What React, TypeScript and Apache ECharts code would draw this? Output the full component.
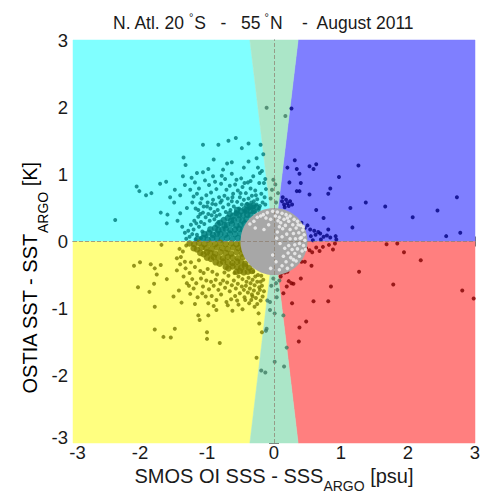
import React, { useEffect, useRef } from "react";
import * as echarts from "echarts";

const tickValues = [-3, -2, -1, 0, 1, 2, 3];
const titleParts = ["N. Atl. 20", "S   -   55", "N    -  August 2011"];
const xNameParts = ["SMOS OI SSS - SSS", "ARGO", " [psu]"];
const yNameParts = ["OSTIA SST - SST", "ARGO", " [K]"];

const cyanRegion = [[-3, 0], [-3, 3], [-0.36, 3], [0, 0]];
const blueRegion = [[0, 0], [0.36, 3], [3, 3], [3, 0]];
const yellowRegion = [[-3, 0], [0, 0], [-0.36, -3], [-3, -3]];
const redRegion = [[0, 0], [3, 0], [3, -3], [0.36, -3]];
const wedgeTop = [[0, 0], [-0.36, 3], [0.36, 3]];
const wedgeBottom = [[0, 0], [-0.36, -3], [0.36, -3]];
const circleCenter = [0, 0];
const circleRadius = 0.5;

const tealPoints = [
  [-0.57, 1.54], [-0.68, 1.5], [-0.83, 1.44], [-1.06, 1.44], [-0.48, 1.39], [-0.38, 1.46], [-0.2, 1.44], [-0.16, 1.3],
  [-0.26, 1.24], [-0.38, 1.19], [-0.63, 1.18], [-0.9, 1.22], [-1.35, 1.25], [-1.32, 1.14], [-2.05, 0.82], [-2.01, 0.75],
  [-1.91, 0.69], [-1.83, 0.72], [-1.7, 0.86], [-1.61, 0.89], [-1.69, 0.43], [-1.59, 0.4], [-1.6, 0.27], [-2.37, 0.32],
  [-1.49, 0.58], [-1.36, 0.97], [-1.15, 1.02], [-1.06, 1.03], [-0.91, 0.97], [-0.76, 1.07], [-0.78, 0.98], [-0.63, 1.01],
  [-0.21, 1.02], [-0.31, 0.97], [-0.22, 0.87], [-0.15, 0.87], [-0.44, 0.87], [-0.56, 0.92], [-1.33, 0.84], [-1.25, 0.77],
  [-1.4, 0.69], [-1.2, 0.67], [-1.1, 0.57], [-1.06, 0.43], [-1.24, 0.25], [-1.33, 0.13], [-1.3, 0.5], [-1.4, 0.42],
  [-1.18, 0.88], [-1.12, 0.79], [-1.03, 0.91], [-0.97, 0.84], [-0.94, 0.73], [-0.88, 0.89], [-0.86, 0.78], [-0.82, 0.66],
  [-0.79, 0.86], [-0.73, 0.93], [-0.71, 0.77], [-0.69, 0.64], [-0.66, 0.83], [-0.61, 0.71], [-0.58, 0.85], [-0.54, 0.76],
  [-0.51, 0.66], [-0.49, 0.94], [-0.47, 0.81], [-0.42, 0.72], [-0.39, 0.88], [-0.35, 0.79], [-0.33, 0.68], [-0.28, 0.76],
  [-0.25, 0.63], [-0.19, 0.71], [-0.17, 0.58], [-1.15, 0.71], [-1.08, 0.64], [-1.01, 0.69], [-0.99, 0.58], [-0.95, 0.49],
  [-0.91, 0.62], [-0.87, 0.55], [-0.84, 0.47], [-0.8, 0.58], [-0.76, 0.51], [-0.74, 0.68], [-0.72, 0.44], [-0.68, 0.55],
  [-0.65, 0.47], [-0.63, 0.6], [-0.6, 0.52], [-0.57, 0.43], [-0.55, 0.59], [-0.52, 0.49], [-0.48, 0.55], [-0.45, 0.62],
  [-0.43, 0.45], [-0.4, 0.56], [-0.37, 0.49], [-0.34, 0.58], [-0.31, 0.52], [-0.29, 0.44], [-0.26, 0.55], [-0.23, 0.47],
  [-0.21, 0.53], [-1.22, 0.58], [-1.17, 0.49], [-1.13, 0.37], [-1.19, 0.31], [-1.09, 0.29], [-1.05, 0.52], [-1.02, 0.36],
  [-0.98, 0.41], [-0.96, 0.31], [-0.93, 0.39], [-0.89, 0.44], [-0.89, 0.33], [-0.86, 0.38], [-0.83, 0.29], [-0.81, 0.4],
  [-1.12, 0.22], [-1.07, 0.15], [-1.04, 0.26], [-1.01, 0.08], [-1.15, 0.1], [-1.2, 0.18], [-1.26, 0.07], [-1.17, 0.03],
  [-1.09, 0.05], [-1.1, 0.41], [-1.28, 0.16], [-1.22, 0.11], [-1.31, 0.04], [-1.16, 0.27], [-1.13, 0.47], [-1.0, 0.52],
  [-0.92, 0.56], [-0.78, 0.61], [-0.62, 0.66], [-0.5, 0.72], [-0.38, 0.64], [-0.3, 0.6], [-0.27, 0.69], [-0.35, 0.9],
  [-0.24, 1.1], [-0.18, 1.05], [-0.13, 0.93], [-0.12, 0.78], [-0.14, 0.66], [-0.13, 0.55], [-0.27, 0.35], [-0.22, 0.5],
  [-0.45, 1.1], [-0.7, 1.16], [-0.98, 1.08], [-1.23, 0.95], [-1.48, 0.77], [-1.55, 0.66], [-1.44, 0.31], [-1.37, 0.22]
];

const tealCore = [
  [-1.14, 0.04], [-1.06, 0.05], [-0.99, 0.03], [-0.92, 0.05], [-0.85, 0.04], [-0.78, 0.03], [-0.7, 0.05], [-0.62, 0.04], [-0.54, 0.05], [-0.47, 0.04],
  [-1.04, 0.11], [-0.97, 0.13], [-0.91, 0.1], [-0.85, 0.12], [-0.8, 0.11], [-0.73, 0.1], [-0.66, 0.12], [-0.58, 0.11], [-0.5, 0.12],
  [-0.95, 0.18], [-0.88, 0.2], [-0.83, 0.17], [-0.77, 0.18], [-0.72, 0.19], [-0.65, 0.17], [-0.58, 0.18], [-0.52, 0.19], [-0.46, 0.18],
  [-0.84, 0.25], [-0.8, 0.28], [-0.74, 0.24], [-0.7, 0.25], [-0.63, 0.26], [-0.56, 0.24], [-0.5, 0.25], [-0.44, 0.27],
  [-0.75, 0.32], [-0.69, 0.35], [-0.64, 0.31], [-0.6, 0.32], [-0.53, 0.33], [-0.47, 0.31], [-0.41, 0.33],
  [-0.66, 0.41], [-0.61, 0.38], [-0.56, 0.42], [-0.52, 0.39], [-0.46, 0.39], [-0.4, 0.4], [-0.35, 0.39],
  [-0.55, 0.47], [-0.49, 0.45], [-0.44, 0.48], [-0.41, 0.46], [-0.35, 0.46], [-0.3, 0.45],
  [-0.4, 0.54], [-0.36, 0.52], [-0.31, 0.53], [-0.26, 0.51]
];

const olivePoints = [
  [-1.68, -0.05], [-2.09, -0.36], [-2.0, -0.31], [-2.03, -0.68], [-1.86, -0.75], [-1.84, -0.34], [-1.78, -0.4], [-1.75, -0.49],
  [-1.79, -0.63], [-1.78, -0.97], [-1.78, -1.31], [-1.65, -1.42], [-1.54, -1.43], [-1.48, -1.3], [-1.69, -0.35], [-1.6, -0.56],
  [-1.5, -0.82], [-1.45, -0.25], [-1.42, -0.73], [-1.38, -0.91], [-1.13, -1.1], [-1.11, -1.17], [-1.0, -1.35], [-1.0, -1.45],
  [-0.81, -1.51], [-0.86, -1.02], [-0.98, -0.92], [-0.71, -0.9], [-0.47, -1.01], [-0.43, -0.87], [-0.32, -0.82], [-0.23, -1.07],
  [-0.26, -1.73], [-0.22, -1.22], [-0.18, -1.35],
  [-1.05, -0.47], [-1.12, -0.28], [-1.24, -0.31], [-1.32, -0.4], [-1.26, -0.47], [-1.18, -0.38], [-1.1, -0.44], [-0.99, -0.41],
  [-0.92, -0.45], [-0.85, -0.49], [-0.74, -0.46], [-0.68, -0.51], [-0.59, -0.47], [-0.53, -0.52], [-0.47, -0.56], [-0.41, -0.6],
  [-0.38, -0.54], [-0.35, -0.62], [-0.32, -0.57], [-0.29, -0.65], [-0.25, -0.6], [-0.22, -0.68], [-0.19, -0.51], [-0.16, -0.57],
  [-1.22, -0.56], [-1.16, -0.62], [-1.09, -0.55], [-1.06, -0.67], [-1.01, -0.58], [-0.97, -0.71], [-0.94, -0.6], [-0.9, -0.66],
  [-0.87, -0.57], [-0.83, -0.72], [-0.8, -0.63], [-0.76, -0.58], [-0.73, -0.69], [-0.7, -0.61], [-0.66, -0.74], [-0.63, -0.65],
  [-0.6, -0.58], [-0.57, -0.7], [-0.54, -0.63], [-0.51, -0.77], [-0.48, -0.67], [-0.45, -0.72], [-0.42, -0.66], [-0.39, -0.76],
  [-0.36, -0.7], [-0.33, -0.79], [-0.3, -0.73], [-0.27, -0.84], [-0.24, -0.77], [-0.2, -0.88],
  [-1.25, -0.78], [-1.14, -0.83], [-1.07, -0.77], [-0.93, -0.81], [-0.86, -0.87], [-0.79, -0.79], [-0.64, -0.86], [-0.58, -0.81],
  [-0.53, -0.94], [-0.44, -0.83], [-0.37, -0.92], [-0.29, -0.97], [-1.3, -0.62], [-1.35, -0.52], [-1.4, -0.34], [-1.36, -0.15],
  [-1.31, -0.06], [-1.41, -0.11], [-1.39, -0.23], [-1.33, -0.3], [-1.45, -0.43], [-1.2, -0.7], [-1.02, -0.82], [-0.69, -0.95],
  [-0.55, -0.88], [-0.34, -0.87], [-0.25, -0.93], [-0.28, -0.52], [-0.2, -0.6], [-0.31, -0.45], [-0.24, -0.5], [-0.18, -0.66],
  [-0.62, -1.03], [-0.9, -0.96], [-1.18, -0.93], [-1.27, -0.66], [-0.15, -0.74], [-0.17, -0.82], [-0.21, -0.72], [-0.98, -1.1]
];

const oliveCore = [
  [-1.26, -0.03], [-1.19, -0.04], [-1.12, -0.02], [-1.04, -0.04], [-0.96, -0.03], [-0.88, -0.04], [-0.8, -0.02], [-0.72, -0.04], [-0.64, -0.03], [-0.56, -0.04], [-0.49, -0.03],
  [-1.2, -0.1], [-1.15, -0.12], [-1.08, -0.09], [-1.01, -0.1], [-0.93, -0.11], [-0.85, -0.09], [-0.77, -0.1], [-0.69, -0.11], [-0.61, -0.09], [-0.53, -0.1], [-0.47, -0.12],
  [-1.1, -0.17], [-1.05, -0.19], [-1.0, -0.16], [-0.95, -0.17], [-0.88, -0.18], [-0.8, -0.16], [-0.72, -0.17], [-0.64, -0.18], [-0.56, -0.16], [-0.48, -0.18],
  [-1.0, -0.24], [-0.94, -0.26], [-0.9, -0.23], [-0.83, -0.24], [-0.76, -0.25], [-0.69, -0.23], [-0.62, -0.24], [-0.54, -0.25], [-0.46, -0.23],
  [-0.87, -0.31], [-0.81, -0.33], [-0.76, -0.3], [-0.69, -0.31], [-0.62, -0.32], [-0.55, -0.3], [-0.49, -0.31], [-0.43, -0.33],
  [-0.72, -0.38], [-0.68, -0.4], [-0.62, -0.37], [-0.55, -0.38], [-0.49, -0.39], [-0.43, -0.37], [-0.37, -0.39],
  [-0.56, -0.45], [-0.51, -0.44], [-0.45, -0.46], [-0.39, -0.45], [-0.33, -0.44]
];

const navyPoints = [
  [0.26, 1.98], [0.31, 1.21], [0.2, 1.1], [0.34, 1.08], [0.38, 1.01], [0.53, 1.12], [0.59, 1.08], [0.63, 1.15],
  [1.26, 1.13], [0.97, 0.96], [0.23, 0.88], [0.4, 0.87], [0.34, 0.75], [0.38, 0.75], [0.53, 0.7], [0.84, 0.79],
  [0.81, 0.71], [1.37, 0.58], [1.66, 0.52], [1.14, 0.5], [0.63, 0.47], [2.73, 0.66], [2.44, 0.46], [2.07, 0.36],
  [0.74, 0.35], [1.17, 0.21], [0.81, 0.18], [2.57, 0.08], [2.78, 0.13],
  [0.12, 0.6], [0.15, 0.55], [0.18, 0.62], [0.2, 0.57], [0.22, 0.53], [0.16, 0.51], [0.24, 0.6], [0.27, 0.55], [0.13, 0.66],
  [0.41, 0.28], [0.46, 0.2], [0.54, 0.18], [0.6, 0.16], [0.66, 0.14], [0.55, 0.08], [0.62, 0.1], [0.69, 0.12],
  [0.74, 0.07], [0.79, 0.09], [0.84, 0.06], [0.92, 0.08], [0.93, 0.03], [0.7, 0.03], [0.58, 0.02], [0.5, 0.24]
];

const maroonPoints = [
  [1.68, -0.04], [1.84, -0.03], [1.94, -0.16], [2.19, -0.28], [1.27, -0.45], [1.78, -0.64], [2.81, -0.73], [2.98, -0.85],
  [0.56, -0.36], [0.4, -0.55], [0.85, -0.67], [0.59, -0.89], [0.81, -0.89], [0.27, -0.92], [0.48, -1.19], [0.38, -1.28],
  [0.37, -1.49], [0.19, -0.67], [0.22, -0.59], [0.26, -0.62], [0.29, -0.63], [0.11, -0.47], [0.16, -0.46], [0.14, -0.77],
  [0.43, -0.07], [0.48, -0.1], [0.53, -0.13], [0.57, -0.16], [0.63, -0.09], [0.68, -0.14], [0.73, -0.08], [0.82, -0.05],
  [0.88, -0.12], [0.91, -0.03], [0.38, -0.25], [0.41, -0.3], [0.46, -0.3], [0.2, -0.45], [0.1, -0.52]
];

const wedgePoints = [
  [-0.11, 1.99], [0.17, 1.87], [-0.01, 0.92], [-0.03, 0.77], [0.06, 0.72], [-0.05, 0.64], [0.03, 0.58], [0.02, 0.85],
  [-0.01, -0.55], [0.03, -0.62], [-0.04, -0.66], [0.05, -0.72], [0.08, -0.58], [0.04, -0.83], [-0.06, -0.9], [-0.1, -0.88],
  [-0.06, -1.02], [0.01, -1.07], [0.14, -1.1], [-0.12, -1.33], [-0.11, -1.3], [0.19, -1.58], [0.01, -1.79], [0.15, -1.86],
  [-0.13, -1.95], [-0.19, -1.92]
];

const whitePoints = [
  [0.05, 0.44], [0.12, 0.42], [0.18, 0.4], [0.24, 0.38], [0.3, 0.33], [0.35, 0.3], [0.4, 0.24], [0.43, 0.17],
  [0.45, 0.1], [0.46, 0.02], [0.44, -0.06], [0.42, -0.14], [0.38, -0.22], [0.33, -0.29], [0.27, -0.35], [0.2, -0.4],
  [-0.02, 0.45], [-0.1, 0.43], [-0.16, 0.4], [0.08, 0.36], [0.15, 0.33], [0.22, 0.3], [0.28, 0.25], [0.33, 0.2],
  [0.37, 0.13], [0.39, 0.05], [0.38, -0.03], [0.35, -0.11], [0.31, -0.18], [0.25, -0.24], [0.18, -0.3], [0.12, -0.36],
  [0.02, 0.38], [0.1, 0.28], [0.17, 0.24], [0.24, 0.18], [0.29, 0.12], [0.32, 0.04], [0.31, -0.05], [0.27, -0.12],
  [0.21, -0.17], [0.14, -0.22], [0.06, 0.31], [0.13, 0.19], [0.19, 0.11], [0.24, 0.04], [0.22, -0.06], [0.16, -0.1],
  [0.08, 0.22], [0.05, 0.14], [0.12, 0.07], [0.09, -0.03], [0.04, 0.05], [-0.05, 0.33], [-0.12, 0.35], [-0.2, 0.38],
  [0.44, 0.22], [0.47, -0.12], [-0.25, 0.36], [-0.3, 0.3], [-0.08, 0.25], [-0.15, 0.18], [-0.02, -0.2], [0.03, -0.3],
  [0.08, -0.42], [-0.05, -0.4], [0.36, 0.25], [0.41, 0.06], [0.29, -0.27], [0.2, 0.35], [-0.28, 0.2], [-0.36, 0.26]
];

const FONT = "Liberation Sans, Arial, Helvetica, sans-serif";
const TEXT = "#1a1a1a";
const LABEL_SIZE = 18.5;

function regionSeries(points: number[][], color: string) {
  return {
    type: "custom",
    coordinateSystem: "cartesian2d",
    silent: true,
    z: 1,
    data: [[0, 0]],
    renderItem: (_p: any, api: any) => ({
      type: "polygon",
      shape: { points: points.map((pt) => api.coord(pt)) },
      style: { fill: color, stroke: color, lineWidth: 0.5 },
    }),
  };
}

function scatterSeries(data: number[][], color: string, z: number, size = 4) {
  return {
    type: "scatter",
    data,
    symbol: "circle",
    symbolSize: size,
    z,
    silent: true,
    itemStyle: { color },
  };
}

const axisCommon = {
  type: "value",
  min: tickValues[0],
  max: tickValues[tickValues.length - 1],
  interval: tickValues[1] - tickValues[0],
  splitLine: { show: false },
  axisLine: { show: true, lineStyle: { color: "#8a8a8a", width: 1 } },
  axisTick: { show: true, inside: true, length: 5, lineStyle: { color: "#6a6a6a" } },
  nameMoveOverlap: false,
};

const nameRich = (pad: number) => ({
  m: { fontSize: 20, lineHeight: 15, color: TEXT, fontFamily: FONT, verticalAlign: "top" },
  s: { fontSize: 14, lineHeight: 12, color: TEXT, fontFamily: FONT, verticalAlign: "top", padding: [pad, 0, 0, 0] },
});

const labelToken = { fontSize: LABEL_SIZE, lineHeight: 14, color: TEXT, fontFamily: FONT };

const option: any = {
  animation: false,
  backgroundColor: "#ffffff",
  title: {
    left: 108,
    top: 6,
    text: `{t|${titleParts[0]}}{d|°}{t|${titleParts[1]}}{d|°}{t|${titleParts[2]}}`,
    textStyle: {
      fontFamily: FONT,
      fontWeight: "normal",
      rich: {
        t: { fontSize: 17.5, lineHeight: 21, color: TEXT, fontFamily: FONT, fontWeight: "normal", verticalAlign: "bottom" },
        d: { fontSize: 11, lineHeight: 11, color: TEXT, fontFamily: FONT, fontWeight: "normal", verticalAlign: "top", padding: [0, 1, 0, 4] },
      },
    },
  },
  graphic: [
    {
      type: "text",
      x: 27.5,
      y: 278,
      rotation: Math.PI / 2,
      silent: true,
      style: {
        text: `{m|${yNameParts[0]}}{s|${yNameParts[1]}}{m|${yNameParts[2]}}`,
        align: "center",
        verticalAlign: "middle",
        rich: nameRich(16),
      },
    },
  ],
  grid: { left: 73, top: 40, width: 402, height: 403, containLabel: false, outerBoundsMode: "none" },
  xAxis: [
    {
      ...axisCommon,
      position: "bottom",
      axisLabel: {
        fontSize: LABEL_SIZE,
        lineHeight: 14,
        color: TEXT,
        fontFamily: FONT,
        margin: 2.5,
        formatter: (v: number) => (v === tickValues[0] ? `{first|${v}}` : `{n|${v}}`),
        rich: { n: labelToken, first: { ...labelToken, padding: [0, 0, 0, 9] } },
      },
      name: `{m|${xNameParts[0]}}{s|${xNameParts[1]}}{m|${xNameParts[2]}}`,
      nameLocation: "middle",
      nameGap: 22.5,
      nameTextStyle: { fontFamily: FONT, rich: nameRich(13) },
    },
    { ...axisCommon, position: "top", axisLabel: { show: false } },
  ],
  yAxis: [
    {
      ...axisCommon,
      position: "left",
      axisLabel: {
        fontSize: LABEL_SIZE,
        lineHeight: 14,
        color: TEXT,
        fontFamily: FONT,
        margin: 5,
        formatter: (v: number) => (v === tickValues[0] ? `{first|${v}}` : `{n|${v}}`),
        rich: { n: labelToken, first: { ...labelToken, padding: [0, 0, 12, 0] } },
      },
    },
    { ...axisCommon, position: "right", axisLabel: { show: false } },
  ],
  series: [
    regionSeries(cyanRegion, "#80ffff"),
    regionSeries(blueRegion, "#7f7fff"),
    regionSeries(yellowRegion, "#ffff80"),
    regionSeries(redRegion, "#ff7f7f"),
    regionSeries(wedgeTop, "#abe6c8"),
    regionSeries(wedgeBottom, "#abe6c8"),
    scatterSeries(tealCore, "#007a7a", 2, 6.5),
    scatterSeries(oliveCore, "#7a7a00", 2, 6.5),
    scatterSeries(tealPoints, "#007a7a", 3),
    scatterSeries(olivePoints, "#7a7a00", 3),
    scatterSeries(navyPoints, "#00007f", 3),
    scatterSeries(maroonPoints, "#7f0000", 3),
    scatterSeries(wedgePoints, "#3f7a62", 3),
    {
      type: "custom",
      coordinateSystem: "cartesian2d",
      silent: true,
      z: 4,
      data: [circleCenter],
      renderItem: (_p: any, api: any) => {
        const c = api.coord([api.value(0), api.value(1)]);
        const s = api.size([circleRadius, circleRadius]);
        return {
          type: "ellipse",
          shape: { cx: c[0], cy: c[1], rx: s[0], ry: s[1] },
          style: { fill: "#a7a7a7" },
        };
      },
    },
    {
      ...scatterSeries(whitePoints, "#f4f4f4", 5, 3.5),
      markLine: {
        silent: true,
        symbol: "none",
        label: { show: false },
        lineStyle: { type: "dashed", color: "#8c7c6c", width: 1, opacity: 0.7 },
        data: [{ xAxis: 0 }, { yAxis: 0 }],
      },
    },
  ],
};

export default function App() {
  const ref = useRef<HTMLDivElement>(null);
  useEffect(() => {
    document.body.style.margin = "0";
    const chart = echarts.init(ref.current as HTMLDivElement, null, { renderer: "svg" });
    chart.setOption(option);
    return () => chart.dispose();
  }, []);
  return <div ref={ref} style={{ position: "absolute", left: 0, top: 0, width: 485, height: 493 }} />;
}
